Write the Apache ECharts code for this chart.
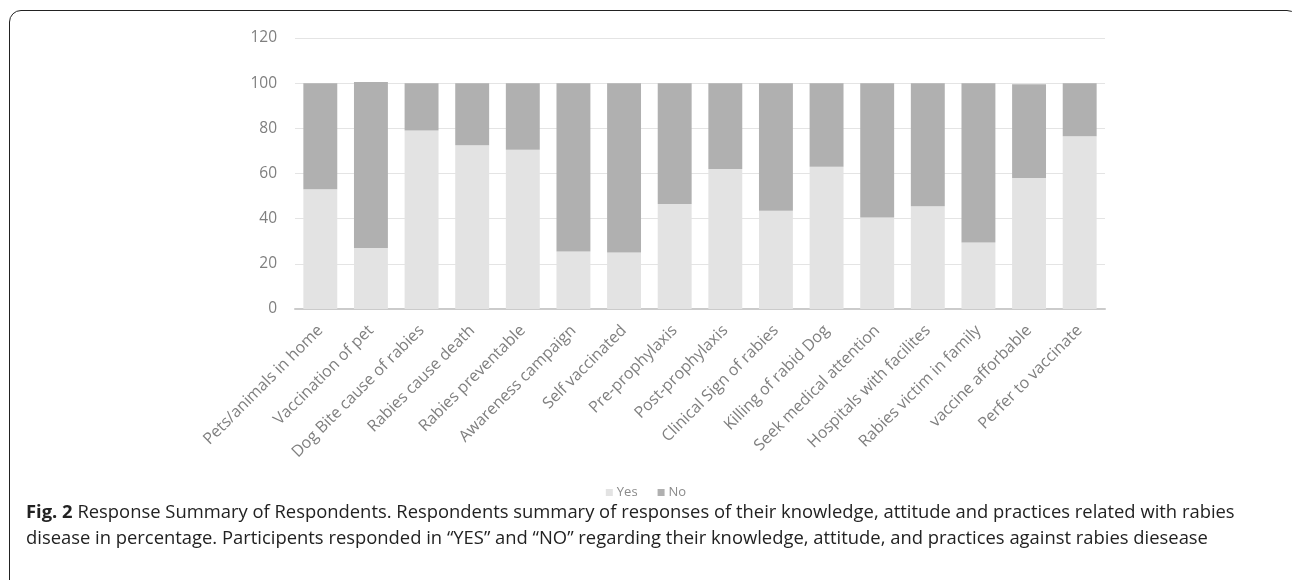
<!DOCTYPE html>
<html>
<head>
<meta charset="utf-8">
<script src="https://cdn.jsdelivr.net/npm/echarts@6/dist/echarts.min.js"></script>
<style>
  html, body { margin: 0; padding: 0; background: #fff; }
  .frame {
    position: absolute; left: 9px; top: 10px; width: 1290px; height: 600px;
    border: 1.5px solid #222; border-radius: 12px; box-sizing: border-box;
  }
  #chart { position: absolute; left: 0; top: 0; width: 1292px; height: 580px; }
  .caption {
    position: absolute; left: 26px; top: 498px; width: 1262px; white-space: nowrap;
    font-family: 'Open Sans', sans-serif; font-size: 18.4px; line-height: 26px; color: #222;
  }
  .caption b { font-weight: 700; }
</style>
</head>
<body>
<div class="frame"></div>
<div id="chart"></div>
<div class="caption"><b>Fig. 2</b> Response Summary of Respondents. Respondents summary of responses of their knowledge, attitude and practices related with rabies<br>disease in percentage. Participents responded in “YES” and “NO” regarding their knowledge, attitude, and practices against rabies diesease</div>
<script>
const categories = [
  'Pets/animals in home', 'Vaccination of pet', 'Dog Bite cause of rabies', 'Rabies cause death',
  'Rabies preventable', 'Awareness campaign', 'Self vaccinated', 'Pre-prophylaxis',
  'Post-prophylaxis', 'Clinical Sign of rabies', 'Killing of rabid Dog', 'Seek medical attention',
  'Hospitals with facilites', 'Rabies victim in family', 'vaccine afforbable', 'Perfer to vaccinate'
]
const yesValues = [53, 27, 79, 72.5, 70.5, 25.5, 25, 46.5, 62, 43.5, 63, 40.5, 45.5, 29.5, 58, 76.5]
const noValues = [47, 73.5, 21, 27.5, 29.5, 74.5, 75, 53.5, 38, 56.5, 37, 59.5, 54.5, 70.5, 41.5, 23.5]
const yTicks = { min: 0, max: 120, interval: 20 }

const chart = echarts.init(document.getElementById('chart'))
const labelFont = 'Open Sans, sans-serif'

chart.setOption({
  animation: false,
  grid: {
    left: 295,
    right: 187,
    top: 38,
    bottom: 271,
    containLabel: false,
  },
  legend: {
    data: ['Yes', 'No'],
    left: 'center',
    top: 481,
    itemWidth: 7,
    itemHeight: 7,
    itemGap: 20,
    icon: 'rect',
    textStyle: {
      color: '#8a8a8a',
      fontSize: 13,
      fontFamily: labelFont,
      padding: [0, 0, 0, -1],
    },
  },
  xAxis: {
    type: 'category',
    data: categories,
    axisTick: { show: false },
    axisLine: {
      lineStyle: { color: '#cbcbcb', width: 2 },
    },
    axisLabel: {
      rotate: 45,
      margin: 19,
      interval: 0,
      color: '#7f7f7f',
      fontSize: 16,
      fontFamily: labelFont,
    },
  },
  yAxis: {
    type: 'value',
    min: yTicks.min,
    max: yTicks.max,
    interval: yTicks.interval,
    axisLine: { show: false },
    axisTick: { show: false },
    axisLabel: {
      color: '#7f7f7f',
      fontSize: 15.5,
      fontFamily: labelFont,
      margin: 18,
    },
    splitLine: {
      lineStyle: { color: '#e4e4e4', width: 1 },
    },
  },
  series: [
    {
      name: 'Yes',
      type: 'bar',
      stack: 'total',
      barCategoryGap: '33%',
      itemStyle: { color: '#e3e3e3' },
      data: yesValues,
    },
    {
      name: 'No',
      type: 'bar',
      stack: 'total',
      barCategoryGap: '33%',
      itemStyle: { color: '#b0b0b0' },
      data: noValues,
    },
  ],
})
</script>
</body>
</html>
